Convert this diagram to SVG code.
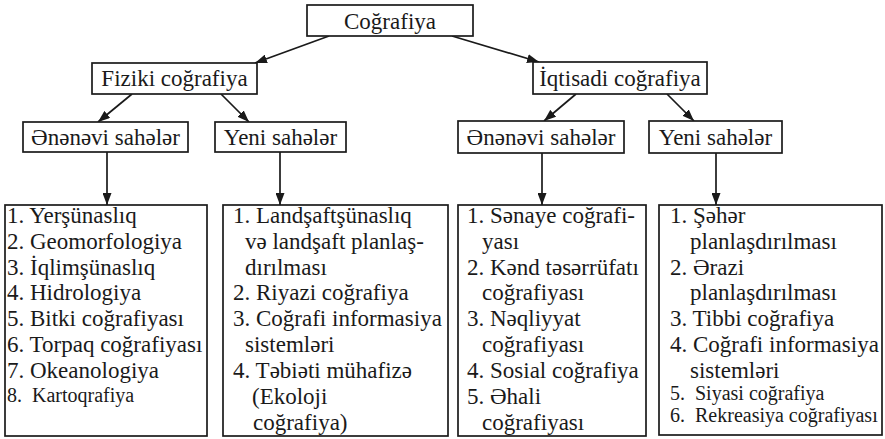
<svg xmlns="http://www.w3.org/2000/svg" width="885" height="439" viewBox="0 0 885 439" font-family="Liberation Serif, Times New Roman, serif">
<defs>
<marker id="ah" markerUnits="userSpaceOnUse" markerWidth="13" markerHeight="9" refX="12" refY="4.5" orient="auto">
<path d="M0,0 L12,4.5 L0,9 z" fill="#1a1a1a"/>
</marker>
</defs>
<style>
rect{fill:#fff;stroke:#1a1a1a;stroke-width:1.7}
text{font-size:23px;fill:#1a1a1a}
.h{text-anchor:middle}
.s{font-size:20px}
.c line{stroke:#1a1a1a;stroke-width:1.7;marker-end:url(#ah)}
</style>
<rect x="0" y="0" width="885" height="439" style="stroke:none"/>
<g id="connectors" class="c">
<line x1="329" y1="36" x2="255" y2="63"/>
<line x1="452" y1="36" x2="539" y2="62"/>
<line x1="132" y1="94" x2="98" y2="122"/>
<line x1="221" y1="94" x2="249" y2="122"/>
<line x1="576" y1="94" x2="544" y2="121"/>
<line x1="667" y1="94" x2="694" y2="121"/>
<line x1="107" y1="152" x2="107" y2="205"/>
<line x1="280" y1="152" x2="280" y2="205"/>
<line x1="542" y1="153" x2="542" y2="205"/>
<line x1="716" y1="153" x2="716" y2="205"/>
</g>
<g id="n-cografiya"><rect x="307" y="5" width="166" height="31"/><text class="h" x="390" y="29">Coğrafiya</text></g>
<g id="n-fiziki"><rect x="92" y="63" width="165" height="31"/><text class="h" x="174.5" y="86">Fiziki coğrafiya</text></g>
<g id="n-iqtisadi"><rect x="533" y="62" width="174" height="32"/><text class="h" x="620" y="86">İqtisadi coğrafiya</text></g>
<g id="n-f-enenevi"><rect x="23" y="122" width="165" height="30"/><text class="h" x="105.5" y="145">Ənənəvi sahələr</text></g>
<g id="n-f-yeni"><rect x="215" y="122" width="131" height="30"/><text class="h" x="280.5" y="145">Yeni sahələr</text></g>
<g id="n-i-enenevi"><rect x="458" y="121" width="166" height="32"/><text class="h" x="541" y="145">Ənənəvi sahələr</text></g>
<g id="n-i-yeni"><rect x="649" y="121" width="133" height="32"/><text class="h" x="715.5" y="145">Yeni sahələr</text></g>
<g id="n-f-enenevi-list"><rect x="5" y="205" width="202" height="231"/>
<text x="7" y="223">1. Yerşünaslıq</text>
<text x="7" y="249">2. Geomorfologiya</text>
<text x="7" y="275">3. İqlimşünaslıq</text>
<text x="7" y="300">4. Hidrologiya</text>
<text x="7" y="326">5. Bitki coğrafiyası</text>
<text x="7" y="352">6. Torpaq coğrafiyası</text>
<text x="7" y="378">7. Okeanologiya</text>
<text class="s" x="7" y="402" xml:space="preserve">8.  Kartoqrafiya</text>
</g>
<g id="n-f-yeni-list"><rect x="223" y="205" width="225" height="231"/>
<text x="233" y="223">1. Landşaftşünaslıq</text>
<text x="245" y="249">və landşaft planlaş-</text>
<text x="245" y="275">dırılması</text>
<text x="233" y="300">2. Riyazi coğrafiya</text>
<text x="233" y="326">3. Coğrafi informasiya</text>
<text x="245" y="352">sistemləri</text>
<text x="233" y="378">4. Təbiəti mühafizə</text>
<text x="252" y="404">(Ekoloji</text>
<text x="253" y="430">coğrafiya)</text>
</g>
<g id="n-i-enenevi-list"><rect x="458" y="205" width="188" height="231"/>
<text x="467" y="223">1. Sənaye coğrafi-</text>
<text x="482" y="249">yası</text>
<text x="467" y="275">2. Kənd təsərrüfatı</text>
<text x="482" y="300">coğrafiyası</text>
<text x="467" y="326">3. Nəqliyyat</text>
<text x="482" y="352">coğrafiyası</text>
<text x="467" y="378">4. Sosial coğrafiya</text>
<text x="467" y="404">5. Əhali</text>
<text x="482" y="430">coğrafiyası</text>
</g>
<g id="n-i-yeni-list"><rect x="659" y="205" width="223" height="230"/>
<text x="670" y="223">1. Şəhər</text>
<text x="690" y="249">planlaşdırılması</text>
<text x="670" y="275">2. Ərazi</text>
<text x="690" y="300">planlaşdırılması</text>
<text x="670" y="326">3. Tibbi coğrafiya</text>
<text x="670" y="352">4. Coğrafi informasiya</text>
<text x="690" y="378">sistemləri</text>
<text class="s" x="670" y="400" xml:space="preserve">5.  Siyasi coğrafiya</text>
<text class="s" x="670" y="422" xml:space="preserve">6.  Rekreasiya coğrafiyası</text>
</g>
</svg>
